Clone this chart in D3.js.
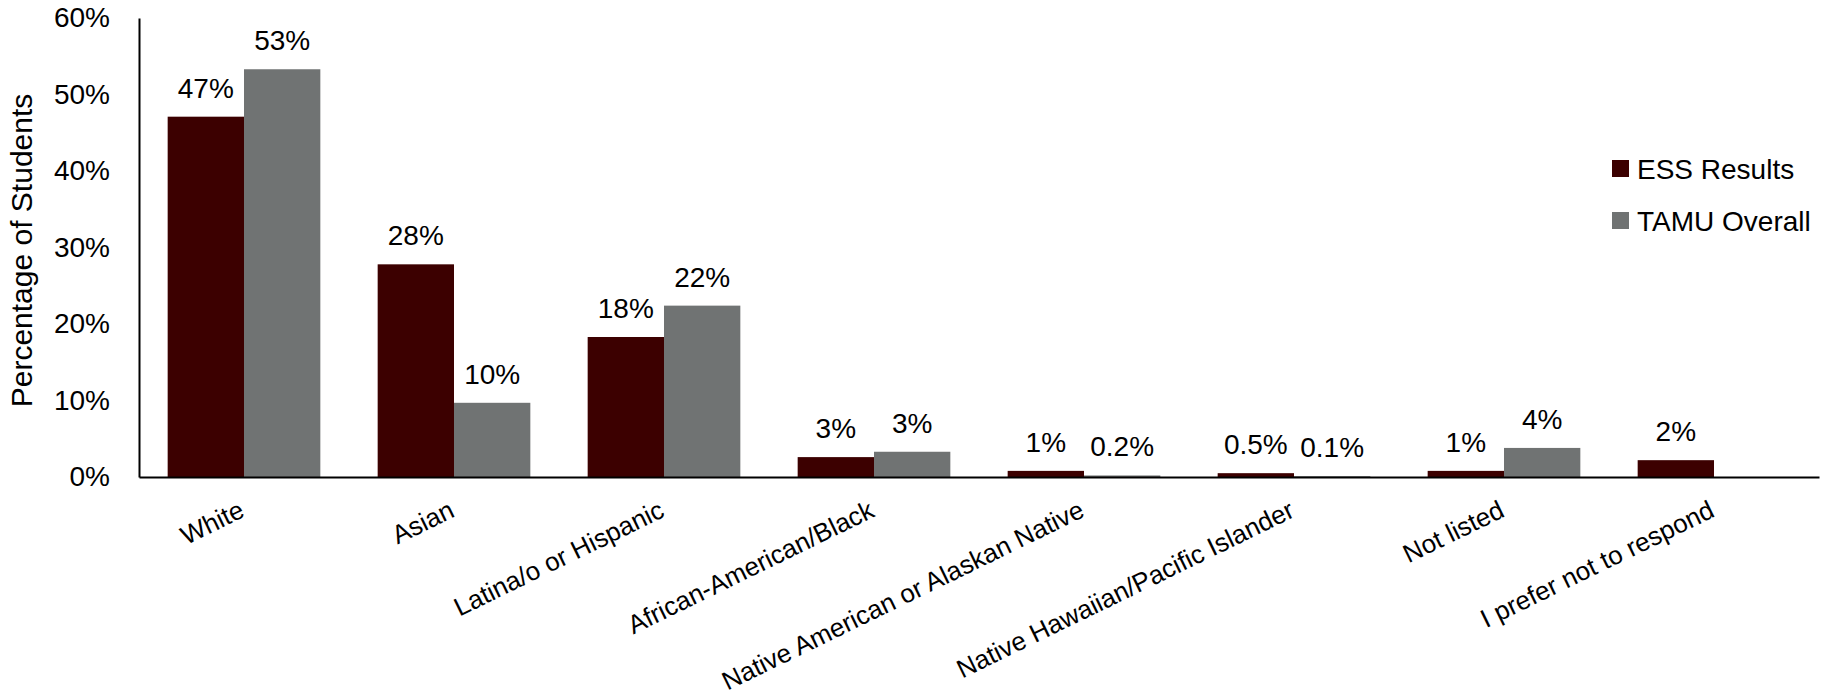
<!DOCTYPE html>
<html>
<head>
<meta charset="utf-8">
<script src="https://cdn.jsdelivr.net/npm/d3@7"></script>
<style>
  html, body { margin: 0; padding: 0; background: #fff; }
  svg text { font-family: "Liberation Sans", Arial, sans-serif; fill: #000; }
</style>
</head>
<body>
<svg id="chart" width="1827" height="690"></svg>
<script>
const categories = ["White", "Asian", "Latina/o or Hispanic", "African-American/Black",
  "Native American or Alaskan Native", "Native Hawaiian/Pacific Islander", "Not listed",
  "I prefer not to respond"];
const seriesNames = ["ESS Results", "TAMU Overall"];
const essValues = [47.1, 27.8, 18.3, 2.6, 0.8, 0.5, 0.8, 2.2];
const tamuValues = [53.3, 9.7, 22.4, 3.3, 0.2, 0.1, 3.8, null];
const essLabels = ["47%", "28%", "18%", "3%", "1%", "0.5%", "1%", "2%"];
const tamuLabels = ["53%", "10%", "22%", "3%", "0.2%", "0.1%", "4%", null];
const yTicks = [0, 10, 20, 30, 40, 50, 60];
const yTickLabels = ["0%", "10%", "20%", "30%", "40%", "50%", "60%"];
const colors = ["#3c0000", "#707373"];

(function () {
const svg = d3.select("#chart");
const mLeft = 139, mRight = 1819, mTop = 18, mBottom = 477;

const x = d3.scaleBand().domain(categories).range([mLeft, mRight])
  .paddingInner(0.273).paddingOuter(0.1365);
const xs = d3.scaleBand().domain(seriesNames).range([0, x.bandwidth()]);
const y = d3.scaleLinear().domain([0, 60]).range([mBottom, mTop]);

const series = [
  { name: seriesNames[0], values: essValues, labels: essLabels, color: colors[0] },
  { name: seriesNames[1], values: tamuValues, labels: tamuLabels, color: colors[1] }
];

// bars
series.forEach(s => {
  const data = categories.map((c, i) => ({ c, v: s.values[i], l: s.labels[i] })).filter(d => d.v != null);
  svg.append("g").selectAll("rect").data(data).join("rect")
    .attr("x", d => x(d.c) + xs(s.name))
    .attr("y", d => y(d.v))
    .attr("width", xs.bandwidth())
    .attr("height", d => y(0) - y(d.v))
    .attr("fill", s.color);
  svg.append("g").selectAll("text").data(data).join("text")
    .attr("x", d => x(d.c) + xs(s.name) + xs.bandwidth() / 2)
    .attr("y", d => y(d.v) - 19)
    .attr("text-anchor", "middle")
    .attr("font-size", 28)
    .text(d => d.l);
});

// y axis
const yAxis = d3.axisLeft(y).tickValues(yTicks).tickFormat((d, i) => yTickLabels[i]).tickSize(0).tickPadding(29);
const yg = svg.append("g").attr("transform", `translate(${mLeft},0)`).call(yAxis);
yg.select(".domain").attr("stroke", "#000").attr("stroke-width", 2);
yg.selectAll("text").attr("font-size", 28).attr("fill", "#000")
  .style("font-family", '"Liberation Sans", Arial, sans-serif');

// x axis
const xAxis = d3.axisBottom(x).tickSize(0).tickFormat("");
const xg = svg.append("g").attr("transform", `translate(0,${mBottom})`).call(xAxis);
xg.select(".domain").attr("stroke", "#000").attr("stroke-width", 2);

svg.append("g").selectAll("text").data(categories).join("text")
  .attr("text-anchor", "end")
  .attr("font-size", 26)
  .attr("transform", d => `translate(${x(d) + x.bandwidth() / 2 + 2},${mBottom + 39}) rotate(-26)`)
  .text(d => d);

// y title
svg.append("text")
  .attr("transform", `translate(32,${(93 + 408) / 2}) rotate(-90)`)
  .attr("text-anchor", "middle")
  .attr("font-size", 30)
  .text("Percentage of Students");

// legend
const lg = svg.append("g");
series.forEach((s, i) => {
  const yy = 160 + i * 52;
  lg.append("rect").attr("x", 1612).attr("y", yy).attr("width", 17).attr("height", 17).attr("fill", s.color);
  lg.append("text").attr("x", 1637).attr("y", yy + 19).attr("font-size", 28).text(s.name);
});
})();
</script>
</body>
</html>
